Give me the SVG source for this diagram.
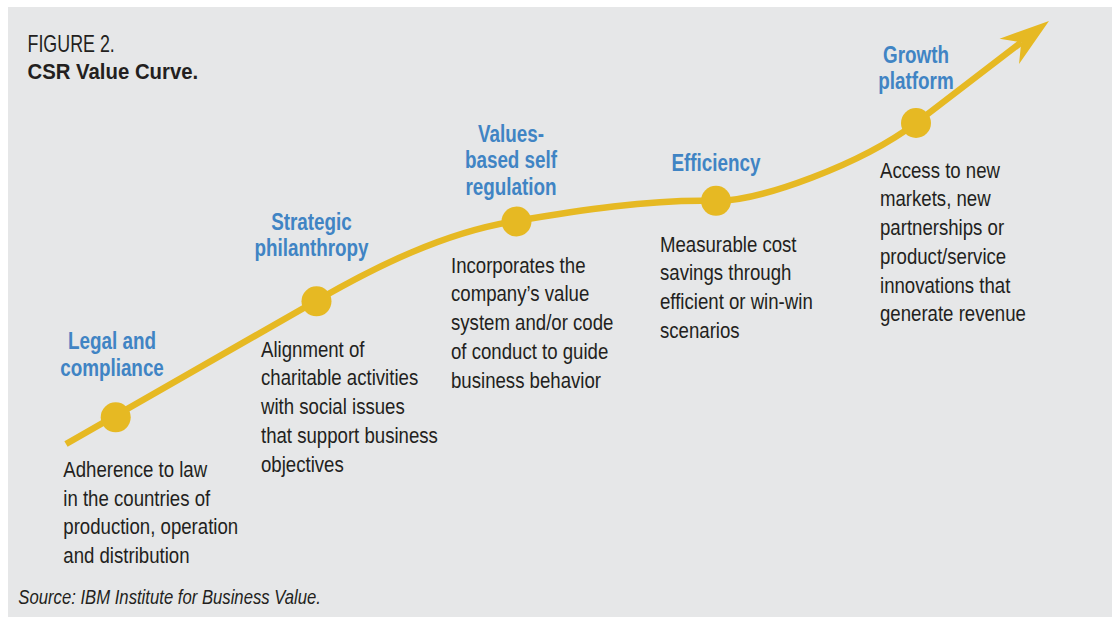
<svg xmlns="http://www.w3.org/2000/svg" width="1114" height="617" viewBox="0 0 1114 617">
  <style>
    .bg { fill: #e6e7e8; }
    .curve { fill: none; stroke: #e6b923; stroke-width: 6.5; }
    .dot { fill: #e6b923; }
    text { font-family: "Liberation Sans", Arial, sans-serif; }
    .title { font-size: 23.5px; fill: #231f20; }
    .title-b { font-size: 23px; font-weight: bold; fill: #231f20; }
    .label { font-size: 23px; font-weight: bold; fill: #4084c4; text-anchor: middle; }
    .body { font-size: 23px; fill: #231f20; }
    .source { font-size: 20.5px; font-style: italic; fill: #231f20; }
  </style>
  <defs>
    <marker id="arrow" markerUnits="userSpaceOnUse" markerWidth="60" markerHeight="40" refX="15" refY="20" orient="auto" viewBox="0 0 60 40">
      <path d="M50,20 L0,4 L15,20 L0,36 Z" fill="#e6b923"/>
    </marker>
  </defs>
  <rect class="bg" x="8" y="7" width="1104" height="610"/>

  <g id="title">
    <text class="title" transform="translate(27.5,52.3) scale(0.76,1)">FIGURE 2.</text>
    <text class="title-b" transform="translate(27.5,79) scale(0.885,1)">CSR Value Curve.</text>
  </g>

  <g id="connectors">
    <path class="curve" d="M66,444 L316,301 C375,267 445,232 516,221 C575,211 650,199 716,201 C760,201 860,165 916,123 L1021.2,42.3" marker-end="url(#arrow)"/>
  </g>

  <g id="node-legal">
    <circle class="dot" cx="115.7" cy="417.3" r="15"/>
    <text class="label" transform="translate(112,349) scale(0.82,1)">Legal and</text>
    <text class="label" transform="translate(112,375.7) scale(0.82,1)">compliance</text>
    <text class="body" transform="translate(63.3,476.7) scale(0.81,1)">Adherence to law</text>
    <text class="body" transform="translate(63.3,505.5) scale(0.81,1)">in the countries of</text>
    <text class="body" transform="translate(63.3,534.3) scale(0.81,1)">production, operation</text>
    <text class="body" transform="translate(63.3,563.1) scale(0.81,1)">and distribution</text>
  </g>

  <g id="node-strategic">
    <circle class="dot" cx="316.5" cy="301.3" r="15"/>
    <text class="label" transform="translate(311.5,229.5) scale(0.82,1)">Strategic</text>
    <text class="label" transform="translate(311.5,256.2) scale(0.82,1)">philanthropy</text>
    <text class="body" transform="translate(261,356.7) scale(0.81,1)">Alignment of</text>
    <text class="body" transform="translate(261,385.4) scale(0.81,1)">charitable activities</text>
    <text class="body" transform="translate(261,414.1) scale(0.81,1)">with social issues</text>
    <text class="body" transform="translate(261,442.8) scale(0.81,1)">that support business</text>
    <text class="body" transform="translate(261,471.5) scale(0.81,1)">objectives</text>
  </g>

  <g id="node-values">
    <circle class="dot" cx="516.5" cy="221.5" r="15"/>
    <text class="label" transform="translate(511,141.7) scale(0.82,1)">Values-</text>
    <text class="label" transform="translate(511,168.4) scale(0.82,1)">based self</text>
    <text class="label" transform="translate(511,195.1) scale(0.82,1)">regulation</text>
    <text class="body" transform="translate(451,272.7) scale(0.81,1)">Incorporates the</text>
    <text class="body" transform="translate(451,301.4) scale(0.81,1)">company’s value</text>
    <text class="body" transform="translate(451,330.1) scale(0.81,1)">system and/or code</text>
    <text class="body" transform="translate(451,358.8) scale(0.81,1)">of conduct to guide</text>
    <text class="body" transform="translate(451,387.5) scale(0.81,1)">business behavior</text>
  </g>

  <g id="node-efficiency">
    <circle class="dot" cx="716" cy="200.8" r="15"/>
    <text class="label" transform="translate(716,170.7) scale(0.82,1)">Efficiency</text>
    <text class="body" transform="translate(660,251.7) scale(0.81,1)">Measurable cost</text>
    <text class="body" transform="translate(660,280.4) scale(0.81,1)">savings through</text>
    <text class="body" transform="translate(660,309.1) scale(0.81,1)">efficient or win-win</text>
    <text class="body" transform="translate(660,337.8) scale(0.81,1)">scenarios</text>
  </g>

  <g id="node-growth">
    <circle class="dot" cx="916" cy="123" r="15"/>
    <text class="label" transform="translate(916,62.7) scale(0.82,1)">Growth</text>
    <text class="label" transform="translate(916,89.4) scale(0.82,1)">platform</text>
    <text class="body" transform="translate(880,177.7) scale(0.81,1)">Access to new</text>
    <text class="body" transform="translate(880,206.4) scale(0.81,1)">markets, new</text>
    <text class="body" transform="translate(880,235.1) scale(0.81,1)">partnerships or</text>
    <text class="body" transform="translate(880,263.8) scale(0.81,1)">product/service</text>
    <text class="body" transform="translate(880,292.5) scale(0.81,1)">innovations that</text>
    <text class="body" transform="translate(880,321.2) scale(0.81,1)">generate revenue</text>
  </g>

  <g id="source">
    <text class="source" transform="translate(18.3,604) scale(0.814,1)">Source: IBM Institute for Business Value.</text>
  </g>
</svg>
